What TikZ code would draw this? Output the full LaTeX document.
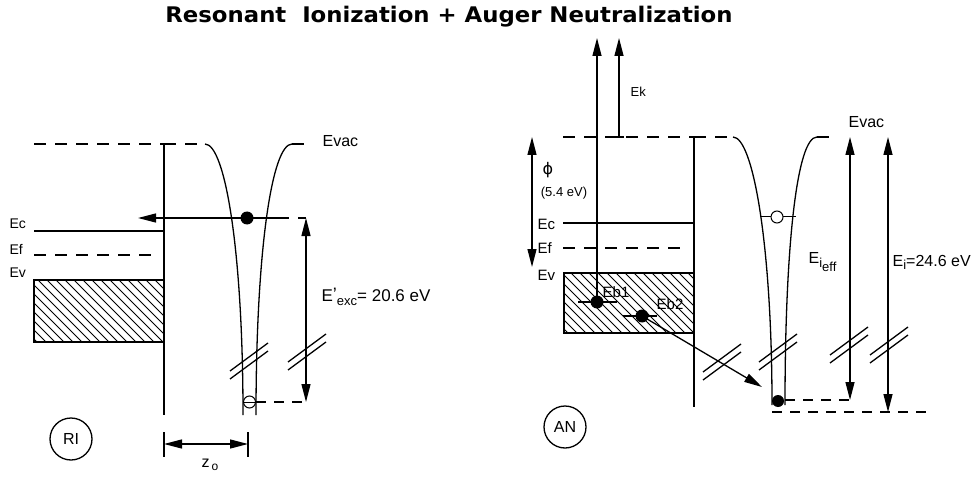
\documentclass[tikz,border=0pt]{standalone}
\usepackage{fontspec}
\usepackage{graphicx}
\setmainfont{Liberation Sans}
\newfontfamily\titlefont{DejaVu Sans}
\newfontfamily\greekfont{DejaVu Sans}
\usetikzlibrary{arrows.meta}
\newcommand\fsz[1]{\fontsize{#1}{#1}\selectfont}
\begin{document}
\begin{tikzpicture}[x=1pt,y=-1pt,line width=1.3pt,
  tip/.style={-{Triangle[length=18pt,width=9pt]}},
  dtip/.style={{Triangle[length=18pt,width=9pt]}-{Triangle[length=18pt,width=9pt]}},
  lvl/.style={dash pattern=on 12pt off 9pt},
  lab/.style={inner sep=0pt,anchor=west,font=\fsz{16}},
  slab/.style={inner sep=0pt,anchor=west,font=\fsz{14}},
  dot/.style={circle,fill=black,inner sep=0pt,minimum size=13pt},
  hole/.style={circle,draw,fill=white,inner sep=0pt,minimum size=12pt,line width=1pt},
  tag/.style={circle,draw,inner sep=0pt,minimum size=42pt,font=\fsz{16}},
  hatch/.style={line width=1pt},
  brk/.pic={\draw (-19,10) -- (19,-18); \draw (-19,18) -- (19,-10);}
]
\useasboundingbox (0,0) rectangle (973,478);

% title
\node[anchor=base,inner sep=0pt] (title) at (449,23)
  {\scalebox{1.06}[1]{\titlefont\bfseries\fsz{21.5}Resonant\hspace{15pt}Ionization + Auger Neutralization}};

% ================= left panel (RI) =================
\coordinate (LvacL) at (34,144);
\coordinate (LwallT) at (164,144);
\coordinate (LwallB) at (164,415);
\coordinate (LwL) at (205,144);
\coordinate (LwR) at (292,144);
\coordinate (LvacR) at (306,144);
\coordinate (LtubeL) at (243,415);
\coordinate (LtubeR) at (256,415);
\draw[lvl] (LvacL) -- (LwallT);
\draw[lvl] (LwallT) -- (LwL);
\draw (LwallT) -- (LwallB);
\draw (LwL) .. controls (225,144) and (243,250) .. (LtubeL);
\draw (LwR) .. controls (272,144) and (256,250) .. (LtubeR);
\draw[lvl] (LwR) -- (LvacR);

\coordinate (LEcL) at (34,231);
\coordinate (LEcR) at (164,231);
\draw (LEcL) -- (LEcR);
\coordinate (LEfL) at (34,255);
\coordinate (LEfR) at (152,255);
\draw[lvl] (LEfL) -- (LEfR);

\begin{scope}
  \clip (34,280) rectangle (164,342);
  \foreach \a in {-70,-61,...,170} \draw[hatch] (\a,280) -- (\a+62,342);
\end{scope}
\draw (34,280) rectangle (164,342);

\coordinate (LarrS) at (277,218);
\coordinate (LarrE) at (138,218);
\coordinate (LtopR) at (306,218);
\coordinate (LbotR) at (306,402);
\coordinate (LbotL) at (256,402);
\draw[tip] (LarrS) -- (LarrE);
\draw[lvl] (LarrS) -- (LtopR);
\draw[dtip] (LtopR) -- (LbotR);
\draw[dash pattern=on 10pt off 8pt] (LbotL) -- (LbotR);
\node[dot] (Ldot) at (247,218) {};
\node[hole] (Lhole) at (249.5,402) {};
\draw[line width=1pt] (Lhole.west) -- (Lhole.east);
\pic at (249,361) {brk};
\pic at (307,352) {brk};

% z0 dimension
\coordinate (Z1t) at (164,432); \coordinate (Z1b) at (164,457);
\coordinate (Z2t) at (248,432); \coordinate (Z2b) at (248,457);
\coordinate (Z1m) at (164,444); \coordinate (Z2m) at (248,444);
\draw (Z1t) -- (Z1b);
\draw (Z2t) -- (Z2b);
\draw[dtip] (Z1m) -- (Z2m);
\node[inner sep=0pt,font=\fsz{16}] (zo) at (210,465) {z\hspace{2pt}\raisebox{-3pt}{\fsz{12}o}};

\node[tag] (RI) at (71,439) {RI};

\node[lab] (LEvac) at (322,141) {Evac};
\node[slab] (LEc) at (9,224) {Ec};
\node[slab] (LEf) at (9,249) {Ef};
\node[slab] (LEv) at (9,273) {Ev};
\node[inner sep=0pt,anchor=west,font=\fsz{17}] (Eexc) at (321,297)
  {E\raisebox{1pt}{\fsz{18}'}\raisebox{-4pt}{\fsz{13}exc}= 20.6 eV};

% ================= right panel (AN) =================
\coordinate (RvacL) at (563,137);
\coordinate (RwallT) at (694,137);
\coordinate (RwallB) at (694,407);
\coordinate (RwL) at (733,137);
\coordinate (RwR) at (817,137);
\coordinate (RvacR) at (835,137);
\coordinate (RtubeL) at (772,405);
\coordinate (RtubeR) at (785,405);
\draw[lvl] (RvacL) -- (RwallT);
\draw[lvl] (RwallT) -- (RwL);
\draw (RwallT) -- (RwallB);
\draw (RwL) .. controls (753,137) and (772,245) .. (RtubeL);
\draw (RwR) .. controls (797,137) and (785,245) .. (RtubeR);
\draw[lvl] (RwR) -- (RvacR);

\coordinate (REcL) at (563,223);
\coordinate (REcR) at (694,223);
\draw (REcL) -- (REcR);
\coordinate (REfL) at (563,248);
\coordinate (REfR) at (682,248);
\draw[lvl] (REfL) -- (REfR);

\begin{scope}
  \clip (564,273) rectangle (694,333);
  \foreach \a in {490,499,...,700} \draw[hatch] (\a,273) -- (\a+60,333);
\end{scope}
\draw (564,273) rectangle (694,333);

% Eb1, Eb2
\coordinate (B1L) at (578,302); \coordinate (B1R) at (617,302);
\coordinate (B2L) at (623,316); \coordinate (B2R) at (657,316);
\draw (B1L) -- (B1R);
\draw (B2L) -- (B2R);
\node[dot] (Eb1dot) at (597,302) {};
\node[dot] (Eb2dot) at (642,316) {};
\node[slab,font=\fsz{15}] (Eb1) at (602,292) {Eb1};
\node[slab,font=\fsz{15}] (Eb2) at (656,304) {Eb2};

% emitted electron arrows
\coordinate (U1top) at (597,38);
\draw[tip] (Eb1dot.center) -- (U1top);
\coordinate (U2bot) at (619,137);
\coordinate (U2top) at (619,38);
\coordinate (U2tl) at (614,137); \coordinate (U2tr) at (624,137);
\draw[tip] (U2bot) -- (U2top);
\draw (U2tl) -- (U2tr);
\node[slab,font=\fsz{13}] (Ek) at (630,92) {Ek};

% phi
\coordinate (Pt) at (532,137); \coordinate (Pb) at (532,267);
\draw[dtip] (Pt) -- (Pb);
\node[inner sep=0pt,font=\fsz{16}\greekfont] (phi) at (548,170) {ϕ};
\node[inner sep=0pt,font=\fsz{13}] (phival) at (564,193) {(5.4 eV)};

% diagonal transition
\coordinate (Dend) at (762,387);
\draw[tip] (Eb2dot.center) -- (Dend);

% ion levels
\coordinate (HL) at (760,217); \coordinate (HR) at (796,217);
\draw[line width=1pt] (HL) -- (HR);
\node[hole] (Rhole) at (777,217) {};
\coordinate (EeT) at (850,137); \coordinate (EeB) at (850,400);
\coordinate (Rdl) at (785,400);
\draw[dash pattern=on 10pt off 8pt] (Rdl) -- (EeB);
\node[dot,minimum size=12pt] (Rdot) at (778,401) {};
\draw[dtip] (EeT) -- (EeB);
\coordinate (EiT) at (888,137); \coordinate (EiB) at (888,412);
\coordinate (Bl) at (772,412); \coordinate (Br) at (928,412);
\draw[dash pattern=on 10pt off 8pt] (Bl) -- (Br);
\draw[dtip] (EiT) -- (EiB);

\pic at (722,362) {brk};
\pic at (778,352) {brk};
\pic at (849,345) {brk};
\pic at (889,345) {brk};

\node[lab] (REvac) at (848,122) {Evac};
\node[slab,font=\fsz{15}] (REc) at (537,224) {Ec};
\node[slab,font=\fsz{15}] (REf) at (537,248) {Ef};
\node[slab,font=\fsz{15}] (REv) at (537,275) {Ev};
\node[lab] (Eieff) at (808,262) {E\raisebox{-4pt}{\fsz{13}i\raisebox{-4pt}{\fsz{13}eff}}};
\node[lab] (Ei) at (892,262) {E\raisebox{-3pt}{\fsz{13}i}=24.6 eV};

\node[tag] (AN) at (565,427) {AN};
\end{tikzpicture}
\end{document}
